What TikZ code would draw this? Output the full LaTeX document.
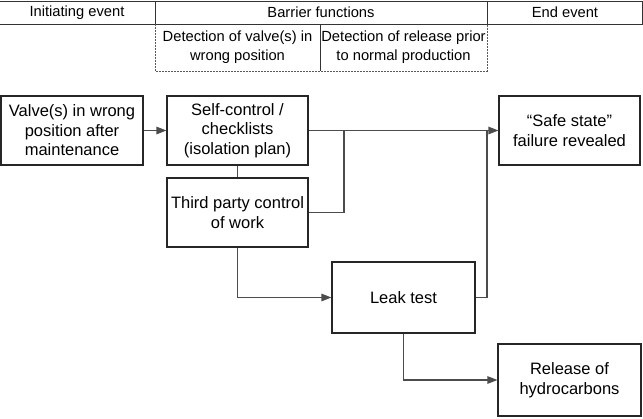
\documentclass[tikz,border=0pt]{standalone}
\usepackage{fontspec}
\setmainfont{Liberation Sans}
\usetikzlibrary{arrows.meta}
\begin{document}
\begin{tikzpicture}[x=1pt,y=-1pt,
  box/.style={draw=black!85, line width=1.1pt, minimum width=141pt, minimum height=69pt,
    align=center, inner sep=0pt, font=\fontsize{16.5}{19.5}\selectfont},
  head/.style={align=center, inner sep=0pt, font=\fontsize{14.7}{19}\selectfont},
  rule/.style={draw=black!80, line width=0.9pt},
  dashrule/.style={draw=black!65, line width=0.8pt, dash pattern=on 2pt off 1pt},
  link/.style={draw=black!70, line width=1.1pt},
  arr/.style={link, -{Triangle[length=10pt,width=7.5pt]}}]
\useasboundingbox (0,0) rectangle (643,418);

% header table
\draw[rule] (0,1.5) -- (642,1.5) -- (642,24) -- (0,24);
\draw[rule] (155,1.5) -- (155,24);
\draw[rule] (487,1.5) -- (487,24);
\draw[dashrule] (155,24) -- (155,71) -- (487,71) -- (487,24);
\draw[rule] (320,24) -- (320,71);
\node[head] (h1) at (77,12.5) {Initiating event};
\node[head] (h2) at (321,12.5) {Barrier functions};
\node[head] (h3) at (565,12.5) {End event};
\node[head] (h4) at (237.5,47) {Detection of valve(s) in\\wrong position};
\node[head] (h5) at (403.5,47) {Detection of release prior\\to normal production};

% boxes
\node[box, minimum width=142pt] (valve) at (72,130.5) {Valve(s) in wrong\\position after\\maintenance};
\node[box] (self) at (237.5,130.5) {Self-control /\\checklists\\(isolation plan)};
\node[box] (third) at (237.5,212.5) {Third party control\\of work};
\node[box, minimum width=143pt, minimum height=71pt] (leak) at (403.5,297.5) {Leak test};
\node[box] (safe) at (569.5,130.5) {\textquotedblleft Safe state\textquotedblright\\failure revealed};
\node[box, minimum width=143pt, minimum height=72pt] (rel) at (569.5,380) {Release of\\hydrocarbons};

\coordinate (j1) at (344,130.5);
\coordinate (j2) at (487,130.5);

% connectors
\draw[arr] (valve.east) -- (self.west);
\draw[arr] (self.east) -- (safe.west);
\draw[link] (self.south) -- (third.north);
\draw[link] (third.east) -| (j1);
\draw[arr] (third.south) |- (leak.west);
\draw[link] (leak.east) -| (j2);
\draw[arr] (leak.south) |- (rel.west);
\end{tikzpicture}
\end{document}
